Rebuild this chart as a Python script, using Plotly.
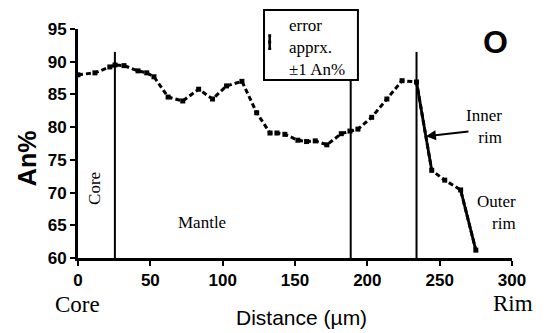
import plotly.graph_objects as go

distance = [0, 11.7, 22, 25.6, 31.8, 41.5, 47.5, 52.5, 62.3, 72.4, 83.4, 93, 102.7, 113.3,
            123.5, 132.7, 137.5, 143, 152, 158, 164, 172, 182, 188, 193.5, 203, 213.5, 224,
            234, 244.5, 253.5, 264.5, 275]
an_pct = [88.0, 88.3, 89.2, 89.5, 89.4, 88.6, 88.3, 87.7, 84.6, 84.0, 85.8, 84.3, 86.3, 87.0,
          82.2, 79.1, 79.1, 78.9, 78.0, 77.8, 77.9, 77.3, 79.0, 79.4, 79.7, 81.5, 84.3, 87.1,
          86.9, 73.4, 71.9, 70.4, 61.2]
boundaries = [25.5, 188.5, 234]
boundary_tops = [91.5, 87.2, 91.5]
x_ticks = [0, 50, 100, 150, 200, 250, 300]
y_ticks = [60, 65, 70, 75, 80, 85, 90, 95]

serif = "Liberation Serif"
sans = "Liberation Sans"

fig = go.Figure()

for bx, top in zip(boundaries, boundary_tops):
    fig.add_trace(go.Scatter(x=[bx, bx], y=[60, top], mode="lines",
                             line=dict(color="black", width=2), hoverinfo="skip",
                             showlegend=False))

fig.add_trace(go.Scatter(x=distance, y=an_pct, mode="lines+markers",
                         line=dict(color="black", width=3, dash="5px,3px"),
                         marker=dict(symbol="square", size=5, color="black"),
                         showlegend=False))
for i0, i1 in [(28, 30), (31, 33)]:
    fig.add_trace(go.Scatter(x=distance[i0:i1], y=an_pct[i0:i1], mode="lines",
                             line=dict(color="black", width=2.8), showlegend=False))

fig.add_trace(go.Scatter(x=[132.5], y=[93.0], mode="markers",
                         marker=dict(symbol="square", size=3, color="black"),
                         error_y=dict(type="constant", value=1, color="black",
                                      thickness=2.5, width=1.5),
                         cliponaxis=False, showlegend=False))

fig.add_shape(type="rect", xref="paper", yref="paper", x0=0.4286, x1=0.645,
              y0=0.777, y1=1.083, line=dict(color="black", width=2),
              fillcolor="white", layer="below")


def a(**kw):
    base = dict(showarrow=False, xanchor="center", yanchor="middle")
    base.update(kw)
    return base


ann = [
    a(xref="paper", yref="paper", x=0.482, y=1.065, xanchor="left", yanchor="top",
      text="error<br>apprx.<br>±1 An%", align="left",
      font=dict(family=serif, size=17, color="black")),
    a(xref="paper", yref="paper", x=0.961, y=0.943, text="<b>O</b>",
      font=dict(family=sans, size=32, color="black")),
    dict(x=240.5, y=78.6, ax=44, ay=-5, text="", showarrow=True, arrowhead=2,
         arrowsize=1, arrowwidth=2, arrowcolor="black"),
    a(xref="paper", yref="paper", x=0.982, y=0.576, xanchor="right",
      text="Inner<br>rim", align="right",
      font=dict(family=serif, size=17, color="black")),
    a(xref="paper", yref="paper", x=1.014, y=0.2, xanchor="right",
      text="Outer<br>rim", align="right",
      font=dict(family=serif, size=17, color="black")),
    a(x=11.7, y=70.7, text="Core", textangle=-90,
      font=dict(family=serif, size=17, color="black")),
    a(x=85.7, y=65.5, text="Mantle",
      font=dict(family=serif, size=17, color="black")),
    a(xref="paper", yref="paper", x=-0.002, y=-0.205, text="Core",
      font=dict(family=serif, size=23, color="black")),
    a(xref="paper", yref="paper", x=1.002, y=-0.197, text="Rim",
      font=dict(family=serif, size=23, color="black")),
    a(xref="paper", yref="paper", x=0.516, y=-0.262, text="Distance (µm)",
      font=dict(family=sans, size=21, color="black")),
    a(xref="paper", yref="paper", x=-0.117, y=0.437, text="<b>An%</b>", textangle=-90,
      font=dict(family=sans, size=25, color="black")),
]

fig.update_layout(
    width=539, height=325,
    margin=dict(l=70, r=35, t=21, b=75),
    paper_bgcolor="white", plot_bgcolor="white",
    annotations=ann,
    xaxis=dict(range=[0, 300], tickvals=x_ticks, showgrid=False, zeroline=False,
               showline=True, linecolor="black", linewidth=3, ticks="outside",
               ticklen=5, tickwidth=2, tickcolor="black", ticklabelstandoff=0,
               tickfont=dict(family=sans, size=17, color="black", weight="bold")),
    yaxis=dict(range=[60, 95], tickvals=y_ticks, showgrid=False, zeroline=False,
               showline=True, linecolor="black", linewidth=3, ticks="outside",
               ticklen=5, tickwidth=2, tickcolor="black",
               tickfont=dict(family=sans, size=17, color="black", weight="bold")),
)

fig.write_html("out.html")
